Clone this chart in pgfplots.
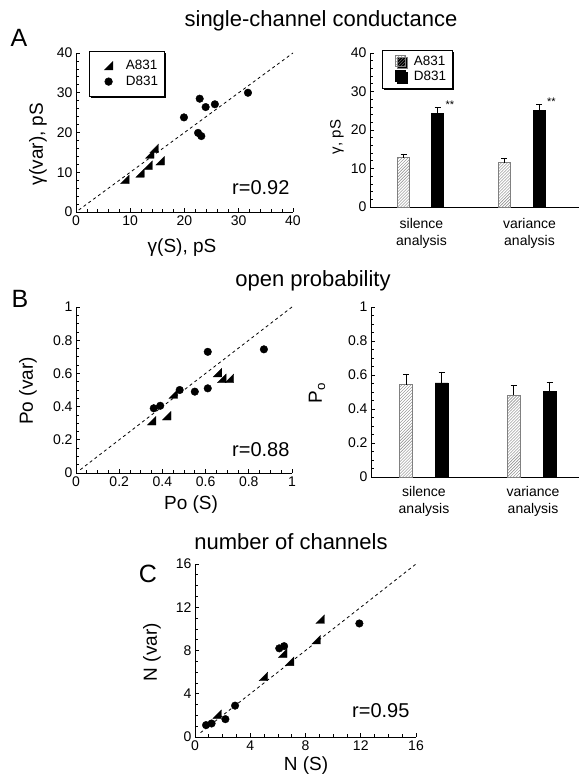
\documentclass[border=0pt]{standalone}
\usepackage{fontspec}
\setmainfont{Liberation Sans}
\usepackage{pgfplots}
\pgfplotsset{compat=1.18}
\usetikzlibrary{patterns,shadows}

\pgfdeclareplotmark{halfsq}{%
  \pgfpathmoveto{\pgfqpoint{-\pgfplotmarksize}{-\pgfplotmarksize}}%
  \pgfpathlineto{\pgfqpoint{\pgfplotmarksize}{-\pgfplotmarksize}}%
  \pgfpathlineto{\pgfqpoint{\pgfplotmarksize}{\pgfplotmarksize}}%
  \pgfpathclose
  \pgfusepathqfillstroke}

\newcommand{\fs}[1]{\fontsize{#1bp}{1.2\dimexpr#1bp\relax}\selectfont}

\pgfplotsset{
  myaxis/.style={
    scale only axis,
    anchor=south west,
    axis lines*=left,
    axis line style={line width=0.8bp,-},
    tick align=inside,
    major tick length=4bp,
    minor tick length=2.5bp,
    every tick/.style={line width=0.7bp,black},
    tick label style={font=\fs{14}},
    /pgf/number format/assume math mode=true,
    clip=false,
  },
  diag/.style={black,line width=0.8bp,dash pattern=on 3bp off 3bp,forget plot},
  tri/.style={only marks,mark=halfsq,mark size=4.3bp,mark options={fill=black,draw=black,line width=0.3bp}},
  circ/.style={only marks,mark=*,mark size=3.8bp,mark options={fill=black,draw=black}},
  hatchbar/.style={ybar,bar width=12,bar shift=0,pattern=north east lines,pattern color=gray,draw=gray,line width=0.5bp},
  blackbar/.style={ybar,bar width=12,bar shift=0,fill=black,draw=black},
  errs/.style={error bars/y dir=plus,error bars/y explicit,
     error bars/error bar style={black,line width=0.7bp,solid},
     error bars/error mark options={black,rotate=90,mark size=3bp,line width=0.7bp}},
  boxlegend/.style={legend style={draw=black,line width=0.6bp,fill=white,
     font=\fs{13.5},inner xsep=4bp,
     nodes={inner sep=2bp},
     drop shadow={shadow xshift=1.6bp,shadow yshift=-1.6bp,fill=black,opacity=1}},
     legend cell align=left},
  markleg/.style={legend image code/.code={\path (0bp,0bp) (20bp,0bp); \draw[##1] plot coordinates {(15bp,0bp)};}},
}

\begin{document}
\begin{tikzpicture}
\path[use as bounding box] (0,0) rectangle (580bp,778bp);

% ---------------- A scatter ----------------
\begin{axis}[myaxis, boxlegend, at={(76bp,566bp)}, width=217bp, height=159bp,
  xmin=0,xmax=40,ymin=0,ymax=40,
  xtick={0,10,20,30,40}, ytick={0,10,20,30,40}, minor tick num=4,
  legend style={at={(rel axis cs:0.06,1.013)},anchor=north west,inner ysep=7bp,row sep=1bp,column sep=10bp}]
\addplot[diag] coordinates {(0.5,0.5) (40,40)};
\addplot[tri, markleg] coordinates {(9.0,8.2) (11.8,9.8) (13.3,11.8) (13.6,14.6) (14.4,16.0) (15.5,12.9)};
\addlegendentry{A831}
\addplot[circ, markleg] coordinates {(19.9,23.8) (22.8,28.5) (23.9,26.4) (25.6,27.1) (31.7,30.0) (22.5,19.9) (23.1,19.1)};
\addlegendentry{D831}
\end{axis}

% ---------------- A bars ----------------
\begin{axis}[myaxis, boxlegend, at={(370bp,571bp)}, width=209bp, height=154bp,
  xmin=0,xmax=209,ymin=0,ymax=40,
  ytick={0,10,20,30,40}, minor y tick num=4,
  xtick={51.5,159.5}, xticklabels={{silence\\analysis},{variance\\analysis}},
  xticklabel style={align=center,font=\fs{14},yshift=-8bp},
  x tick style={draw=none},
  legend style={at={(rel axis cs:0.057,1.02)},anchor=north west,inner ysep=4bp,row sep=0bp,column sep=6bp}]
\addplot[hatchbar, errs, legend image code/.code={\path (0bp,0bp) (19bp,0bp); \draw[pattern=north east lines,pattern color=gray,draw=gray] (9bp,-5bp) rectangle (19bp,6bp);}]
  coordinates {(33.5,12.8) +- (0,1.0) (134,11.5) +- (0,1.2)};
\addlegendentry{A831}
\addplot[blackbar, errs, legend image code/.code={\path (0bp,0bp) (19bp,0bp); \fill[black] (9bp,-5bp) rectangle (19bp,6bp);}]
  coordinates {(67.5,24.4) +- (0,1.4) (169,25.1) +- (0,1.6)};
\addlegendentry{D831}
\node[font=\fs{11},anchor=west] at (axis cs:72,26.6) {**};
\node[font=\fs{11},anchor=west] at (axis cs:173.5,27.3) {**};
\end{axis}

% ---------------- B scatter ----------------
\begin{axis}[myaxis, at={(76bp,305bp)}, width=216bp, height=166bp,
  xmin=0,xmax=1,ymin=0,ymax=1,
  xtick={0,0.2,0.4,0.6,0.8,1}, ytick={0,0.2,0.4,0.6,0.8,1}, minor tick num=3]
\addplot[diag] coordinates {(0.02,0.02) (1,1)};
\addplot[tri] coordinates {(0.35,0.315) (0.42,0.345) (0.45,0.475) (0.655,0.605) (0.675,0.57) (0.71,0.57)};
\addplot[circ] coordinates {(0.36,0.39) (0.39,0.405) (0.48,0.50) (0.55,0.49) (0.61,0.51) (0.61,0.73) (0.87,0.745)};
\end{axis}

% ---------------- B bars ----------------
\begin{axis}[myaxis, at={(371bp,301bp)}, width=208bp, height=170bp,
  xmin=0,xmax=208,ymin=0,ymax=1,
  ytick={0,0.2,0.4,0.6,0.8,1}, minor y tick num=3,
  xtick={53,162}, xticklabels={{silence\\analysis},{variance\\analysis}},
  xticklabel style={align=center,font=\fs{14},yshift=-6bp},
  x tick style={draw=none}]
\addplot[hatchbar, bar width=13, errs] coordinates {(35,0.543) +- (0,0.063) (142.5,0.482) +- (0,0.055)};
\addplot[blackbar, bar width=13, errs] coordinates {(70.5,0.553) +- (0,0.065) (178.5,0.504) +- (0,0.055)};
\end{axis}

% ---------------- C scatter ----------------
\begin{axis}[myaxis, at={(195bp,41bp)}, width=221bp, height=173bp,
  xmin=0,xmax=16,ymin=0,ymax=16,
  xtick={0,4,8,12,16}, ytick={0,4,8,12,16}, minor tick num=3]
\addplot[diag] coordinates {(0.4,0.4) (16,16)};
\addplot[tri] coordinates {(1.6,2.1) (4.95,5.6) (6.35,7.75) (6.85,7.0) (8.77,9.0) (9.06,10.9)};
\addplot[circ] coordinates {(0.8,1.1) (1.2,1.25) (2.2,1.65) (2.9,2.9) (6.1,8.2) (6.45,8.4) (11.9,10.5)};
\end{axis}

% ---------------- texts ----------------
\node[font=\fs{22},anchor=base] at (321bp,751bp) {single-channel conductance};
\node[font=\fs{22},anchor=base] at (313bp,491bp) {open probability};
\node[font=\fs{22},anchor=base] at (291bp,228bp) {number of channels};

\node[font=\fs{25},anchor=base] at (19bp,731bp) {A};
\node[font=\fs{25},anchor=base] at (20bp,470bp) {B};
\node[font=\fs{25},anchor=base] at (148bp,195bp) {C};

\node[font=\fs{19},rotate=90] at (38bp,634bp) {γ(var), pS};
\node[font=\fs{19},anchor=base] at (182bp,525bp) {γ(S), pS};
\node[font=\fs{20},anchor=base east] at (293bp,583bp) {r=0.92};
\node[font=\fs{15},rotate=90] at (337bp,641bp) {γ, pS};

\node[font=\fs{19},rotate=90] at (28bp,387bp) {Po (var)};
\node[font=\fs{19}] at (191bp,273bp) {Po (S)};
\node[font=\fs{20},anchor=base east] at (293bp,321bp) {r=0.88};
\node[font=\fs{19},rotate=90] at (317bp,385bp) {P\textsubscript{o}};

\node[font=\fs{19},rotate=90] at (152bp,126bp) {N (var)};
\node[font=\fs{19}] at (306bp,12bp) {N (S)};
\node[font=\fs{20},anchor=base east] at (413bp,60bp) {r=0.95};
\end{tikzpicture}
\end{document}
